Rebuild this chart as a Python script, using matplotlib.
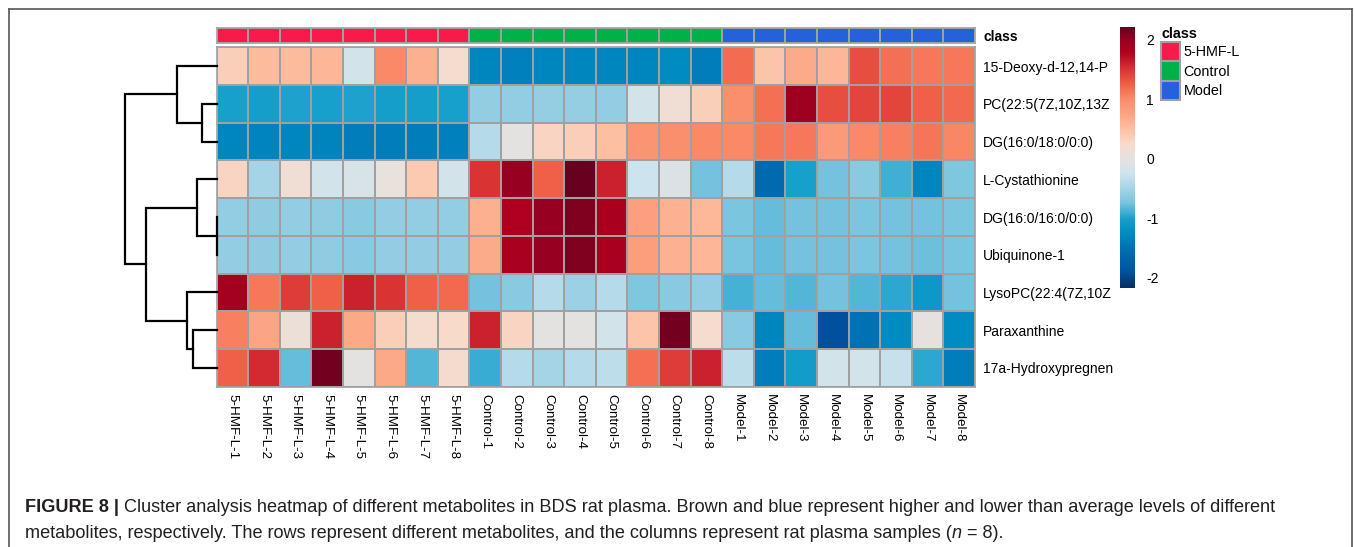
import numpy as np
import matplotlib
matplotlib.use('Agg')
import matplotlib.pyplot as plt
from matplotlib.colors import LinearSegmentedColormap, ListedColormap, Normalize
from matplotlib.patches import Patch
from matplotlib.lines import Line2D

metabolites = ['15-Deoxy-d-12,14-P', 'PC(22:5(7Z,10Z,13Z', 'DG(16:0/18:0/0:0)',
               'L-Cystathionine', 'DG(16:0/16:0/0:0)', 'Ubiquinone-1',
               'LysoPC(22:4(7Z,10Z', 'Paraxanthine', '17a-Hydroxypregnen']
groups = ['5-HMF-L', 'Control', 'Model']
group_colors = ['#f81a4a', '#00b048', '#2462dc']
samples = [f'{g}-{i}' for g in groups for i in range(1, 9)]

# z-scores, one list per metabolite row
hmf_l = [
    [0.35, 0.55, 0.55, 0.6, -0.2, 1.0, 0.65, 0.2],
    [-1.0, -1.02, -0.98, -1.0, -0.98, -1.02, -1.02, -1.0],
    [-1.3, -1.32, -1.3, -1.32, -1.38, -1.38, -1.38, -1.36],
    [0.3, -0.5, 0.15, -0.2, -0.12, 0.05, 0.4, -0.2],
    [-0.6, -0.62, -0.6, -0.62, -0.65, -0.6, -0.6, -0.6],
    [-0.6, -0.62, -0.6, -0.62, -0.65, -0.6, -0.6, -0.6],
    [1.9, 1.1, 1.45, 1.25, 1.6, 1.5, 1.25, 1.2],
    [1.05, 0.75, 0.1, 1.6, 0.72, 0.35, 0.2, 0.25],
    [1.25, 1.55, -0.8, 2.15, 0.0, 0.72, -0.85, 0.22],
]
control = [
    [-1.3, -1.35, -1.3, -1.3, -1.3, -1.3, -1.25, -1.4],
    [-0.6, -0.6, -0.58, -0.58, -0.6, -0.2, 0.15, 0.35],
    [-0.4, 0.0, 0.3, 0.35, 0.5, 0.9, 0.95, 1.0],
    [1.5, 2.0, 1.25, 2.2, 1.6, -0.25, -0.1, -0.75],
    [0.65, 1.8, 2.0, 2.1, 1.85, 0.8, 0.62, 0.58],
    [0.7, 1.85, 2.0, 2.1, 1.85, 0.82, 0.62, 0.6],
    [-0.75, -0.65, -0.4, -0.55, -0.4, -0.7, -0.65, -0.6],
    [1.6, 0.3, 0.0, 0.0, -0.2, 0.45, 2.15, 0.2],
    [-0.92, -0.4, -0.5, -0.4, -0.35, 1.15, 1.45, 1.6],
]
model = [
    [1.18, 0.45, 0.7, 0.6, 1.35, 1.15, 1.1, 1.1],
    [0.95, 1.15, 1.95, 1.35, 1.4, 1.4, 1.25, 1.2],
    [1.0, 1.1, 1.1, 0.85, 1.0, 1.05, 1.12, 1.02],
    [-0.4, -1.6, -1.0, -0.75, -0.65, -0.9, -1.3, -0.7],
    [-0.72, -0.8, -0.75, -0.75, -0.72, -0.75, -0.76, -0.72],
    [-0.74, -0.8, -0.76, -0.75, -0.73, -0.76, -0.77, -0.74],
    [-0.88, -0.8, -0.85, -0.75, -0.85, -0.95, -1.1, -0.75],
    [-0.65, -1.3, -0.8, -1.9, -1.5, -1.25, 0.02, -1.25],
    [-0.35, -1.4, -1.05, -0.2, -0.2, -0.3, -0.95, -1.4],
]

# row clustering as (left, right, height); ids >= 9 are earlier merges
row_linkage = [
    (4, 5, 0.0),
    (1, 2, 14.3),
    (7, 8, 23.3),
    (3, 9, 20.0),
    (6, 11, 29.3),
    (0, 10, 39.3),
    (12, 13, 71.0),
    (14, 15, 91.7),
]

cbar_ticks = [-2, -1, 0, 1, 2]

caption_bold = 'FIGURE 8 | '
caption_1 = ('Cluster analysis heatmap of different metabolites in BDS rat plasma. '
             'Brown and blue represent higher and lower than average levels of different')
caption_2 = ('metabolites, respectively. The rows represent different metabolites, '
             'and the columns represent rat plasma samples (')

W, H = 1355, 547
plt.rcParams['font.family'] = ['Liberation Sans', 'DejaVu Sans']
plt.rcParams['axes.unicode_minus'] = False

values = np.hstack([np.array(hmf_l), np.array(control), np.array(model)])
classes = np.repeat(np.arange(len(groups)), len(hmf_l[0]))[None, :]

anchors = [(-2.17, '#053061'), (-1.9, '#0052a0'), (-1.5, '#0072b4'), (-1.25, '#008cc2'),
           (-1.0, '#18a0cc'), (-0.75, '#78c4de'), (-0.5, '#a6d4e6'), (-0.25, '#cde3ed'),
           (0.0, '#e4e2e0'), (0.25, '#f8dacb'), (0.5, '#fdc0a2'), (0.75, '#fca584'),
           (1.0, '#fa8a68'), (1.25, '#f06048'), (1.5, '#da3434'), (1.8, '#b0001e'),
           (2.0, '#980020'), (2.21, '#67001f')]
vmin, vmax = anchors[0][0], anchors[-1][0]
cmap = LinearSegmentedColormap.from_list(
    'heat', [((v - vmin) / (vmax - vmin), c) for v, c in anchors])
norm = Normalize(vmin, vmax)


def px_axes(fig, left, top, right, bottom):
    return fig.add_axes([left / W, 1 - bottom / H, (right - left) / W, (bottom - top) / H])


def draw_dendrogram(ax, linkage, n_leaves):
    pos = {i: i + 0.5 for i in range(n_leaves)}
    height = {i: 0.0 for i in range(n_leaves)}
    for k, (a, b, h) in enumerate(linkage):
        ya, yb = pos[a], pos[b]
        ax.plot([height[a], h, h, height[b]], [ya, ya, yb, yb], color='black',
                lw=1.6, solid_joinstyle='miter', clip_on=False)
        pos[n_leaves + k] = (ya + yb) / 2
        height[n_leaves + k] = h


fig = plt.figure(figsize=(W / 100, H / 100), dpi=100)

grid = '#a0a0a0'

# heatmap
ax = px_axes(fig, 216.7, 47.3, 975, 386.7)
mesh = ax.pcolormesh(values, cmap=cmap, norm=norm, edgecolors=grid, linewidth=1.2)
ax.set_ylim(len(metabolites), 0)
ax.set_xticks(np.arange(len(samples)) + 0.5, samples, rotation=270, fontsize=9.6)
ax.yaxis.tick_right()
ax.set_yticks(np.arange(len(metabolites)) + 0.5, metabolites, fontsize=10)
ax.tick_params(length=0, pad=5)
ax.tick_params(axis='y', pad=6)
for s in ax.spines.values():
    s.set_color(grid)
    s.set_linewidth(1.2)

# class bar
bar = px_axes(fig, 216.7, 28.3, 975, 43.3)
bar.pcolormesh(classes, cmap=ListedColormap(group_colors), edgecolors=grid, linewidth=1.2)
bar.set_ylim(1, 0)
bar.set_xticks([])
bar.yaxis.tick_right()
bar.set_yticks([0.5], ['class'], fontsize=10, fontweight='bold')
bar.tick_params(length=0, pad=6)
for s in bar.spines.values():
    s.set_color(grid)
    s.set_linewidth(1.2)

# dendrogram
dax = px_axes(fig, 120, 47.3, 216.7, 386.7)
draw_dendrogram(dax, row_linkage, len(metabolites))
dax.set_xlim(96.7, 0)
dax.set_ylim(len(metabolites), 0)
dax.axis('off')

# colorbar
cax = px_axes(fig, 1120, 27, 1135, 288)
cb = fig.colorbar(mesh, cax=cax, ticks=cbar_ticks)
cb.outline.set_visible(False)
cax.tick_params(length=0, labelsize=10, pad=8)

# class legend
handles = [Patch(facecolor=c, edgecolor=grid, linewidth=1.5) for c in group_colors]
fig.legend(handles, groups, title='class', loc='upper left',
           bbox_to_anchor=(1161 / W, 1 - 27 / H), frameon=False, fontsize=10.4,
           handlelength=1.3, handleheight=1.65, handletextpad=0.25, labelspacing=0.05,
           borderaxespad=0, borderpad=0, alignment='left',
           title_fontproperties={'weight': 'bold', 'size': 10.4})

# frame around the figure panel
for xs, ys in [([9, 1352], [9, 9]), ([9, 9], [9, H]), ([1352, 1352], [9, H])]:
    fig.add_artist(Line2D([x / W for x in xs], [1 - y / H for y in ys],
                          color='#555555', lw=1.2))

# caption, pieced together so the bold and italic parts line up
renderer = fig.canvas.get_renderer()
cap_kw = dict(fontsize=13.1, color='#231f20', va='center')


def put(x, y, s, **kw):
    t = fig.text(x / W, 1 - y / H, s, **{**cap_kw, **kw})
    return x + t.get_window_extent(renderer).width


x = put(25, 507, caption_bold, fontweight='bold')
put(x, 507, caption_1)
x = put(25, 533, caption_2)
x = put(x, 533, 'n', style='italic')
put(x, 533, ' = 8).')

fig.savefig('out.png', dpi=100)
